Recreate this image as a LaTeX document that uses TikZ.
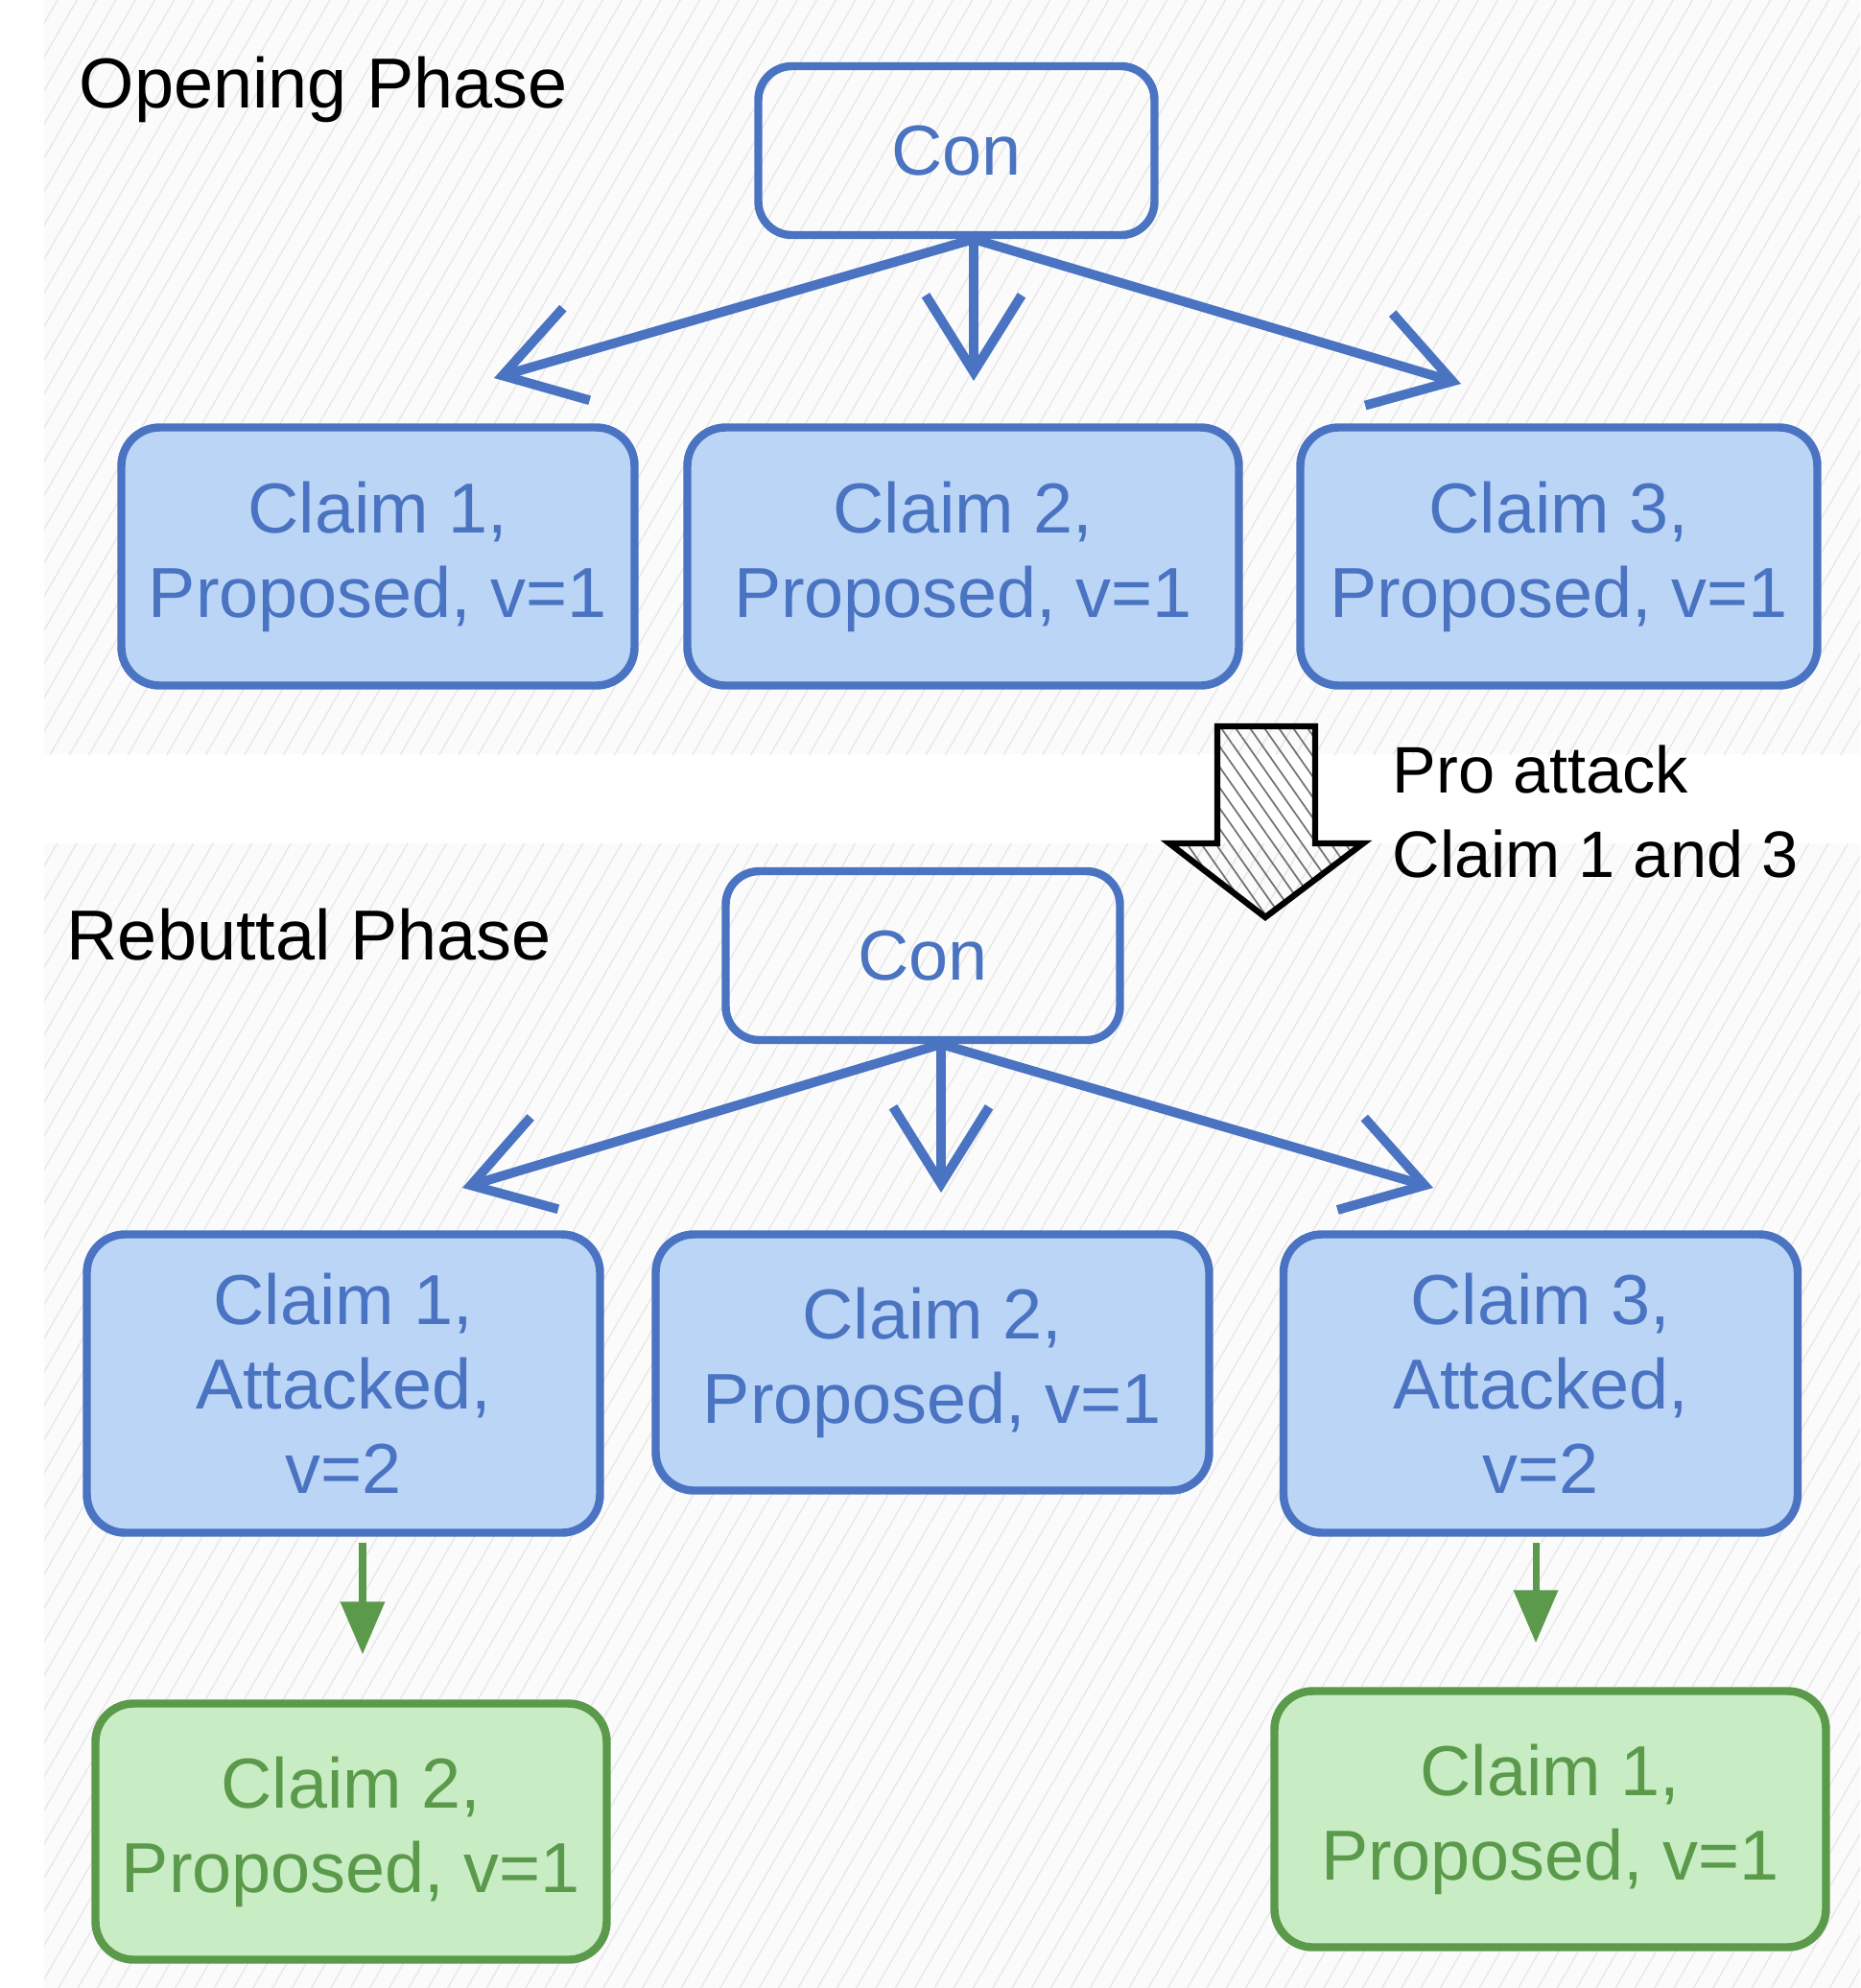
\documentclass[tikz,border=0pt]{standalone}
\usepackage{fontspec}
\setmainfont{Liberation Sans}
\usepackage{xcolor}
\usepackage{tikz}
\usetikzlibrary{arrows.meta,patterns.meta}

\definecolor{edgeblue}{HTML}{4A73C2}
\definecolor{fillblue}{HTML}{BAD5F6}
\definecolor{edgegreen}{HTML}{5B9A4B}
\definecolor{fillgreen}{HTML}{C8EDC4}

\begin{document}
\begin{tikzpicture}[y=-1cm,
    every node/.style={font=\fontsize{21}{25}\selectfont},
    conbox/.style={draw=edgeblue, text=edgeblue, line width=2.4pt, rounded corners=3.5mm, minimum height=1.76cm},
    claimbox/.style={draw=edgeblue, fill=fillblue, text=edgeblue, line width=2.4pt, rounded corners=4mm, align=center},
    newbox/.style={draw=edgegreen, fill=fillgreen, text=edgegreen, line width=2.4pt, rounded corners=4mm, align=center, minimum height=2.67cm},
    attackline/.style={draw=edgeblue, line width=2.8pt, line cap=round, -{Straight Barb[length=8mm,width=10mm]}},
    replyline/.style={draw=edgegreen, line width=2pt, -{Triangle[length=5.5mm,width=4.5mm]}},
    phase/.style={pattern={Lines[angle=60,distance=5pt,line width=0.4pt]}, pattern color=gray!18}]
    \useasboundingbox (0,0) rectangle (19.39,20.72);
    \fill[gray!3] (0.46,0) rectangle (19.39,7.86);
    \fill[phase] (0.46,0) rectangle (19.39,7.86);
    \fill[gray!3] (0.46,8.79) rectangle (19.39,20.72);
    \fill[phase] (0.46,8.79) rectangle (19.39,20.72);

    \node[anchor=base west, inner sep=0pt] (open) at (0.82,1.12) {Opening Phase};
    \node[conbox, minimum width=4.13cm] (con1) at (9.97,1.57) {Con};
    \node[claimbox, minimum width=5.35cm, minimum height=2.69cm] (c11) at (3.94,5.80) {Claim 1,\\Proposed, v=1};
    \node[claimbox, minimum width=5.75cm, minimum height=2.69cm] (c12) at (10.04,5.80) {Claim 2,\\Proposed, v=1};
    \node[claimbox, minimum width=5.39cm, minimum height=2.69cm] (c13) at (16.25,5.80) {Claim 3,\\Proposed, v=1};
    \coordinate (t11) at (5.15,3.94);
    \coordinate (t12) at (10.15,3.97);
    \coordinate (t13) at (15.23,4.00);

    \draw[attackline] ([xshift=1.8mm]con1.south) -- (t11);
    \draw[attackline] ([xshift=1.8mm]con1.south) -- (t12);
    \draw[attackline] ([xshift=1.8mm]con1.south) -- (t13);

    \draw[line width=1.8pt, pattern={Lines[angle=-55,distance=3.5pt,line width=0.5pt]}, pattern color=black!55]
        (12.69,7.57) -- (13.71,7.57) -- (13.71,8.79) -- (14.21,8.79) -- (13.19,9.56) -- (12.19,8.79) -- (12.69,8.79) -- cycle;
    \node[anchor=west, align=left, inner sep=0pt, font=\fontsize{19.5}{25}\selectfont] (pro) at (14.51,8.46) {Pro attack\\Claim 1 and 3};

    \node[anchor=base west, inner sep=0pt] (rebut) at (0.69,10.00) {Rebuttal Phase};
    \node[conbox, minimum width=4.11cm] (con2) at (9.62,9.96) {Con};
    \node[claimbox, minimum width=5.35cm, minimum height=3.11cm] (c21) at (3.58,14.42) {Claim 1,\\Attacked,\\v=2};
    \node[claimbox, minimum width=5.77cm, minimum height=2.67cm] (c22) at (9.72,14.20) {Claim 2,\\Proposed, v=1};
    \node[claimbox, minimum width=5.36cm, minimum height=3.11cm] (c23) at (16.06,14.42) {Claim 3,\\Attacked,\\v=2};
    \coordinate (t21) at (4.82,12.38);
    \coordinate (t22) at (9.81,12.43);
    \coordinate (t23) at (14.94,12.38);

    \draw[attackline] ([xshift=1.9mm]con2.south) -- (t21);
    \draw[attackline] ([xshift=1.9mm]con2.south) -- (t22);
    \draw[attackline] ([xshift=1.9mm]con2.south) -- (t23);

    \node[newbox, minimum width=5.33cm] (g1) at (3.66,19.09) {Claim 2,\\Proposed, v=1};
    \node[newbox, minimum width=5.75cm] (g2) at (16.16,18.96) {Claim 1,\\Proposed, v=1};

    \draw[replyline, shorten <=0.6mm, shorten >=4.7mm] ([xshift=2mm]c21.south) -- ([xshift=2mm]c21.south |- g1.north);
    \draw[replyline, shorten <=0.6mm, shorten >=4.6mm] ([xshift=-0.5mm]c23.south) -- ([xshift=-0.5mm]c23.south |- g2.north);
\end{tikzpicture}
\end{document}
